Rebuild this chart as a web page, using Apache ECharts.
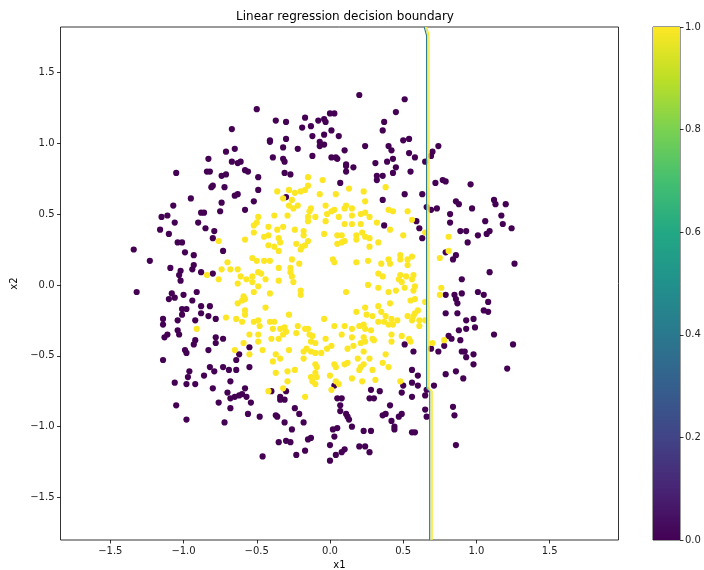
<!DOCTYPE html>
<html><head><meta charset="utf-8">
<script src="https://cdn.jsdelivr.net/npm/echarts@6/dist/echarts.min.js"></script>
<style>html,body{margin:0;padding:0;background:#fff}#c{width:704px;height:570px}</style>
</head><body><div id="c"></div>
<script>
const titleText = 'Linear regression decision boundary';
const xName = 'x1';
const yName = 'x2';
const xTicks = [-1.5, -1, -0.5, 0, 0.5, 1, 1.5];
const yTicks = [-1.5, -1, -0.5, 0, 0.5, 1, 1.5];
const xRange = [-1.84, 1.97];
const yRange = [-1.80, 1.82];
const colorbarTicks = [0, 0.2, 0.4, 0.6, 0.8, 1.0];

// class 0 (purple)
const class0Points = [
[-0.50,1.24],[-0.67,1.10],[-0.71,0.94],[-0.65,0.96],[-0.83,0.89],[-0.67,0.87],[-0.63,0.86],[-0.61,0.87],
[-1.05,0.79],[-0.84,0.80],[-0.82,0.80],[-0.74,0.77],[-0.71,0.78],[-0.58,0.81],[-0.56,0.80],[-0.49,0.76],
[-0.81,0.69],[-0.80,0.70],[-0.72,0.69],[-0.65,0.63],[-0.63,0.64],[-0.49,0.67],[-0.95,0.61],[-0.74,0.58],
[-1.07,0.56],[-0.52,0.59],[-0.58,0.53],[-0.75,0.52],[-0.88,0.51],[-0.86,0.51],
[0.20,1.34],[-0.37,1.16],[-0.30,1.15],[-0.17,1.18],[-0.08,1.16],[-0.04,1.17],[-0.03,1.15],[0.00,1.21],
[0.03,1.21],[-0.19,1.11],[-0.13,1.12],[0.37,1.15],[0.36,1.09],[0.01,1.09],[-0.41,1.02],[-0.41,1.01],
[-0.30,1.03],[-0.12,1.05],[-0.04,1.06],[0.06,1.05],[-0.32,0.97],[-0.22,0.96],[-0.07,1.01],[-0.07,0.98],
[-0.04,0.99],[0.10,0.95],[0.24,0.98],[0.40,0.98],[-0.39,0.90],[-0.32,0.89],[-0.31,0.87],[-0.12,0.91],
[0.01,0.90],[0.04,0.90],[0.05,0.89],[0.11,0.85],[0.11,0.84],[0.16,0.83],[0.31,0.86],[0.39,0.87],
[-0.31,0.79],[-0.27,0.78],[0.11,0.80],[0.32,0.77],[0.32,0.74],[0.36,0.77],[0.07,0.72],[-0.30,0.62],[0.36,0.60],
[0.51,1.31],[0.45,1.22],[0.50,1.02],[0.54,1.03],[0.42,0.95],[0.54,0.93],[0.58,0.90],[0.43,0.89],
[0.65,0.87],[0.70,0.94],[0.69,0.91],[0.74,0.98],[0.45,0.83],[0.43,0.79],[0.55,0.80],[0.72,0.72],
[0.77,0.74],[0.79,0.73],[0.96,0.71],[0.51,0.64],[0.63,0.64],[0.66,0.55],[0.69,0.53],[0.73,0.54],
[0.86,0.59],[0.88,0.57],[0.97,0.54],[1.12,0.60],[1.13,0.57],[1.20,0.57],[0.82,0.50],[1.17,0.49],
[-1.15,0.48],[-1.11,0.49],[-1.06,0.44],[-0.90,0.44],[-1.16,0.39],[-1.10,0.36],[-0.85,0.40],[-0.79,0.38],
[-0.80,0.33],[-1.04,0.30],[-1.01,0.30],[-1.34,0.25],[-0.99,0.23],[-0.93,0.21],[-0.73,0.24],[-1.23,0.17],
[-0.93,0.14],[-0.94,0.11],[-1.09,0.12],[-1.02,0.10],[-1.03,0.07],[-1.02,0.03],[-0.88,0.09],[-0.80,0.08],
[-1.32,-0.05],[-1.08,-0.06],[-1.06,-0.09],[-1.10,-0.10],[-1.00,-0.07],[-0.91,-0.05],[-0.94,-0.11],
[-1.01,-0.17],[-0.98,-0.17],[-1.01,-0.21],[-0.88,-0.15],[-0.88,-0.20],[-0.82,-0.15],[-0.83,-0.22],
[-1.14,-0.24],[-1.14,-0.28],[-1.04,-0.25],[-0.92,-0.25],[-0.78,-0.24],[-1.04,-0.32],[-1.03,-0.35],
[-1.11,-0.35],[-1.13,-0.37],[-0.78,-0.37],[-0.73,-0.38],[-0.92,-0.39],[-0.93,-0.42],[-0.78,-0.41],
[-0.99,-0.46],[-0.98,-0.48],[-0.83,-0.46],[-0.62,-0.49],[-0.64,-0.53],[-1.14,-0.53],[-0.82,-0.58],
[-0.79,-0.61],[-0.73,-0.58],[-0.69,-0.60],[-0.64,-0.60],[-0.55,-0.58],[-0.96,-0.61],[-0.97,-0.65],
[-0.86,-0.64],[-1.06,-0.69],[-0.98,-0.70],[-0.92,-0.70],[-0.68,-0.68],[-0.80,-0.73],[-0.58,-0.73],
[-0.70,-0.76],[-0.60,-0.77],[-0.62,-0.78],[-0.65,-0.79],[-0.68,-0.80],[-0.57,-0.79],[-0.54,-0.83],
[-0.76,-0.83],[-1.05,-0.85],[-0.68,-0.87],[-0.56,-0.91],[-0.48,-0.93],[-0.98,-0.95],[-0.72,-0.97],[-0.55,-0.44],
[-0.40,-0.75],[-0.30,-0.75],[-0.34,-0.79],[-0.31,-0.81],[-0.34,-0.81],[0.03,-0.71],[0.05,-0.80],[0.08,-0.80],
[0.07,-0.85],[0.28,-0.74],[0.34,-0.75],[0.27,-0.80],[0.30,-0.80],[0.41,-0.85],[-0.24,-0.87],[-0.21,-0.91],
[-0.37,-0.92],[-0.36,-0.93],[0.07,-0.89],[0.11,-0.91],[0.12,-0.93],[0.13,-0.95],[0.36,-0.92],[0.38,-0.91],
[-0.18,-0.97],[-0.31,-0.97],[-0.26,-1.02],[0.05,-1.01],[0.02,-1.02],[0.15,-1.00],[0.23,-1.03],[0.28,-1.03],
[-0.13,-1.08],[-0.15,-1.09],[0.03,-1.07],[-0.35,-1.11],[-0.30,-1.10],[-0.27,-1.11],[0.00,-1.13],[-0.17,-1.17],
[0.08,-1.18],[0.10,-1.16],[0.20,-1.14],[0.24,-1.14],[0.27,-1.18],[0.04,-1.20],[-0.46,-1.21],[-0.23,-1.20],[0.00,-1.24],
[0.51,-0.42],[0.57,-0.47],[0.69,-0.45],[0.78,-0.43],[0.74,-0.47],[0.81,-0.36],[0.83,-0.38],[0.89,-0.39],
[0.90,-0.47],[0.92,-0.47],[0.98,-0.49],[0.93,-0.51],[0.98,-0.56],[1.12,-0.35],[1.25,-0.42],[1.21,-0.59],
[0.56,-0.60],[0.60,-0.64],[0.86,-0.61],[0.79,-0.63],[0.91,-0.66],[0.56,-0.69],[0.60,-0.71],[0.71,-0.71],
[0.50,-0.71],[0.49,-0.76],[0.66,-0.74],[0.65,-0.78],[0.56,-0.79],[0.84,-0.86],[0.65,-0.88],[0.49,-0.91],
[0.47,-0.93],[0.85,-0.92],[0.66,-0.93],[0.42,-0.96],[0.44,-1.00],[0.44,-1.02],[0.56,-1.04],[0.58,-1.04],[0.86,-1.13],
[0.82,0.44],[1.18,0.43],[1.24,0.40],[1.06,0.45],[0.59,0.45],[0.61,0.40],[0.37,0.42],[0.63,0.33],
[0.89,0.38],[0.93,0.38],[1.09,0.38],[1.07,0.36],[1.01,0.35],[0.94,0.30],[0.79,0.23],[0.86,0.21],
[0.84,0.18],[1.26,0.15],[1.09,0.09],[0.90,0.04],[0.79,-0.07],[0.85,-0.07],[0.86,-0.10],[0.90,-0.06],
[0.87,-0.13],[1.01,-0.05],[1.05,-0.07],[1.08,-0.12],[1.05,-0.18],[1.08,-0.19],[0.79,-0.20],[0.87,-0.20],
[0.93,-0.25],[0.98,-0.24],[0.99,-0.30],[0.93,-0.31],[0.88,-0.32]
];

// class 1 (yellow)
const class1Points = [
[-0.15,0.76],[-0.05,0.74],[-0.15,0.70],[-0.36,0.66],[-0.28,0.67],[-0.24,0.65],[-0.20,0.66],[-0.17,0.67],
[-0.07,0.64],[0.04,0.64],[0.13,0.68],[0.23,0.66],[0.38,0.69],[-0.32,0.61],[-0.26,0.60],[-0.28,0.56],
[-0.25,0.54],[-0.22,0.56],[-0.13,0.54],[-0.14,0.52],[-0.03,0.56],[0.01,0.52],[0.03,0.53],[0.10,0.54],
[0.11,0.56],[0.15,0.54],[0.24,0.59],[0.21,0.50],[0.24,0.51],[-0.38,0.49],[-0.29,0.49],[-0.02,0.50],
[0.53,0.52],[0.43,0.52],[0.40,0.53],[-0.52,0.42],[-0.50,0.44],[-0.49,0.48],[-0.52,0.37],[-0.58,0.32],
[-0.76,0.31],[-0.53,0.19],[-0.50,0.17],[-0.70,0.16],[-0.74,0.11],[-0.68,0.11],[-0.63,0.11],[-0.84,0.07],
[-0.76,0.04],[-0.61,0.06],[-0.57,0.04],[-0.53,0.06],[-0.63,0.01],[-0.53,0.02],[-0.49,-0.01],[-0.52,-0.05],
[-0.59,-0.08],[-0.58,-0.10],[-0.60,-0.11],[-0.63,-0.13],[-0.58,-0.18],[-0.58,-0.21],[-0.71,-0.23],[-0.64,-0.24],
[-0.60,-0.26],[-0.52,-0.26],[-0.49,-0.25],[-0.91,-0.31],[-0.55,-0.35],[-0.49,-0.35],[-0.59,-0.41],[-0.65,-0.46],
[-0.55,-0.49],[-0.49,-0.40],[-0.15,0.48],[-0.10,0.48],[0.06,0.48],[0.15,0.49],[0.27,0.48],[-0.42,0.41],
[-0.36,0.39],[-0.32,0.41],[-0.24,0.39],[-0.18,0.38],[-0.18,0.35],[-0.15,0.31],[-0.17,0.28],[-0.19,0.27],
[-0.20,0.25],[-0.15,0.45],[-0.03,0.45],[0.10,0.43],[0.15,0.43],[0.21,0.43],[0.32,0.44],[-0.45,0.34],
[-0.42,0.35],[-0.35,0.33],[-0.34,0.30],[-0.42,0.28],[-0.38,0.27],[-0.35,0.24],[-0.23,0.29],[-0.04,0.36],
[0.05,0.35],[0.08,0.35],[0.08,0.30],[0.05,0.29],[0.10,0.31],[0.18,0.35],[0.18,0.32],[0.22,0.37],
[0.24,0.34],[0.27,0.33],[0.33,0.30],[0.27,0.27],[-0.45,0.17],[-0.41,0.17],[-0.26,0.18],[0.02,0.18],
[0.03,0.16],[0.18,0.16],[0.26,0.17],[0.35,0.15],[0.40,0.18],[-0.49,0.09],[-0.47,0.08],[-0.35,0.12],
[-0.27,0.12],[-0.27,0.09],[-0.26,0.06],[-0.21,0.15],[0.33,0.08],[0.36,0.06],[-0.44,0.04],[-0.35,0.03],
[-0.25,0.02],[0.26,0.00],[0.33,-0.02],[-0.41,-0.06],[-0.20,-0.04],[-0.20,-0.07],[0.11,-0.05],[-0.44,-0.16],
[-0.28,-0.21],[0.18,-0.19],[0.24,-0.16],[0.25,-0.21],[0.33,-0.15],[0.35,-0.19],[0.38,-0.22],[0.29,-0.22],
[-0.04,-0.24],[-0.41,-0.26],[-0.38,-0.26],[-0.48,-0.29],[-0.39,-0.31],[-0.34,-0.31],[-0.31,-0.30],[-0.30,-0.33],
[-0.32,-0.35],[-0.22,-0.29],[-0.17,-0.31],[-0.15,-0.31],[-0.14,-0.35],[-0.12,-0.36],[0.03,-0.29],[0.10,-0.29],
[0.15,-0.31],[0.20,-0.29],[0.23,-0.28],[0.24,-0.31],[0.28,-0.32],[0.33,-0.26],[0.37,-0.26],[-0.23,-0.34],
[-0.40,-0.38],[-0.35,-0.38],[-0.03,-0.38],[0.08,-0.35],[0.15,-0.37],[0.23,-0.37],[0.29,-0.38],[-0.13,-0.40],
[-0.10,-0.41],[-0.18,-0.47],[-0.16,-0.45],[-0.13,-0.47],[-0.10,-0.48],[-0.06,-0.48],[-0.02,-0.45],[0.01,-0.43],
[0.24,-0.40],[0.21,-0.41],[0.30,-0.39],[0.12,-0.45],[0.16,-0.43],[0.23,-0.47],[-0.28,-0.46],[-0.46,-0.46],
[-0.37,-0.49],[-0.34,-0.52],[-0.39,-0.54],[-0.18,-0.52],[-0.10,-0.56],[-0.09,-0.58],[0.03,-0.56],[0.04,-0.58],
[0.10,-0.56],[0.12,-0.55],[0.19,-0.52],[0.27,-0.52],[0.23,-0.56],[0.21,-0.58],[0.20,-0.60],[0.36,-0.55],
[0.40,-0.58],[0.29,-0.60],[-0.29,-0.61],[-0.24,-0.60],[-0.37,-0.62],[-0.10,-0.62],[-0.13,-0.65],[-0.09,-0.65],
[-0.12,-0.68],[-0.10,-0.70],[0.00,-0.64],[0.15,-0.66],[0.22,-0.68],[0.31,-0.67],[-0.29,-0.68],[0.04,-0.68],
[0.06,-0.70],[0.01,-0.74],[-0.42,-0.75],[-0.32,-0.73],[-0.17,-0.79],[0.42,-0.35],[0.49,-0.36],[0.42,-0.40],
[0.55,-0.40],[0.70,-0.41],[0.78,-0.39],[0.38,-0.49],[0.48,-0.68],[0.41,0.39],[0.56,0.46],[0.50,0.35],
[0.65,0.37],[0.81,0.34],[0.81,0.24],[0.75,0.19],[0.48,0.21],[0.48,0.18],[0.41,0.15],[0.53,0.18],
[0.53,0.14],[0.56,0.20],[0.48,0.07],[0.47,0.04],[0.49,0.02],[0.52,0.06],[0.57,0.07],[0.56,0.04],
[0.58,-0.01],[0.51,-0.02],[0.45,-0.04],[0.40,-0.05],[0.57,-0.04],[0.41,-0.13],[0.55,-0.11],[0.58,-0.10],
[0.60,-0.18],[0.58,-0.20],[0.57,-0.22],[0.56,-0.25],[0.61,-0.25],[0.53,-0.22],[0.42,-0.24],[0.46,-0.25],
[0.43,-0.28],[0.40,-0.28],[0.61,-0.29],[0.54,-0.38],[0.76,-0.02],[0.75,-0.07],[0.65,-0.12],[0.65,-0.25]
];

// decision boundary (contour path) and its contour bands
const boundaryPath = [[0.652,1.82],[0.660,1.79],[0.668,1.76],[0.668,-0.73],[0.689,-0.75],[0.689,-1.80]];
const contourOffsets = [-0.008, 0.0, 0.008];
const contourColors = ['#2f7a8c', '#cfe3a8', '#fde725'];

const viridisStops = ['#440154','#482475','#414487','#355f8d','#2a788e','#21918c','#22a884','#44bf70','#7ad151','#bddf26','#fde725'];

const FONT = 'DejaVu Sans';
const fmt = v => (v < 0 ? '\u2212' : '') + Math.abs(v).toFixed(1);

const chart = echarts.init(document.getElementById('c'), null, {renderer: 'canvas'});

const contourSeries = contourOffsets.map((off, i) => ({
  type: 'line',
  xAxisIndex: 0, yAxisIndex: 0,
  data: boundaryPath.map(p => [p[0] + off, p[1]]),
  showSymbol: false, symbol: 'none',
  lineStyle: {color: contourColors[i], width: 1.3},
  silent: true, z: 5, animation: false
}));

const option = {
  animation: false,
  backgroundColor: '#fff',
  title: {
    text: titleText, left: 340, top: 6, textAlign: 'center',
    textStyle: {fontFamily: FONT, fontSize: 12, fontWeight: 'normal', color: '#000'}
  },
  grid: [
    {left: 60.5, right: 85.5, top: 27, bottom: 30, show: true, borderColor: '#000', borderWidth: 0.8,
     containLabel: false, outerBoundsMode: 'none'},
    {left: 653, right: 24, top: 27, bottom: 30, show: true, borderColor: '#000', borderWidth: 0.8,
     containLabel: false, outerBoundsMode: 'none'}
  ],
  xAxis: [
    {
      type: 'value', gridIndex: 0, min: xRange[0], max: xRange[1],
      name: xName, nameLocation: 'middle', nameGap: 20,
      nameTextStyle: {fontFamily: FONT, fontSize: 10, color: '#000'},
      axisLine: {show: false, onZero: false}, splitLine: {show: false},
      axisTick: {show: true, customValues: xTicks, length: 3.5, lineStyle: {color: '#000', width: 0.8}},
      axisLabel: {customValues: xTicks, formatter: fmt, fontFamily: FONT, fontSize: 10, color: '#222', margin: 6}
    },
    {
      type: 'category', gridIndex: 1, data: ['cb'], show: false, boundaryGap: true
    }
  ],
  yAxis: [
    {
      type: 'value', gridIndex: 0, min: yRange[0], max: yRange[1],
      name: yName, nameLocation: 'middle', nameGap: 40,
      nameTextStyle: {fontFamily: FONT, fontSize: 10, color: '#000'},
      axisLine: {show: false, onZero: false}, splitLine: {show: false},
      axisTick: {show: true, customValues: yTicks, length: 3.5, lineStyle: {color: '#000', width: 0.8}},
      axisLabel: {customValues: yTicks, formatter: fmt, fontFamily: FONT, fontSize: 10, color: '#222', margin: 6}
    },
    {
      type: 'value', gridIndex: 1, min: 0, max: 1, interval: 0.2, position: 'right',
      axisLine: {show: false, onZero: false}, splitLine: {show: false},
      axisTick: {show: true, length: 3.5, lineStyle: {color: '#000', width: 0.8}},
      axisLabel: {formatter: v => v.toFixed(1), fontFamily: FONT, fontSize: 10, color: '#222', margin: 5}
    }
  ],
  series: [
    {
      type: 'scatter', xAxisIndex: 0, yAxisIndex: 0, data: class0Points,
      symbolSize: 6.2, itemStyle: {color: '#440154', opacity: 1}, silent: true, z: 2
    },
    {
      type: 'scatter', xAxisIndex: 0, yAxisIndex: 0, data: class1Points,
      symbolSize: 6.2, itemStyle: {color: '#fde725', opacity: 1}, silent: true, z: 3
    },
    ...contourSeries,
    {
      type: 'bar', xAxisIndex: 1, yAxisIndex: 1, data: [1], barWidth: '100%', silent: true,
      itemStyle: {
        color: new echarts.graphic.LinearGradient(0, 1, 0, 0,
          viridisStops.map((c, i) => ({offset: i / (viridisStops.length - 1), color: c})))
      }
    }
  ]
};
chart.setOption(option);
</script>
</body></html>
